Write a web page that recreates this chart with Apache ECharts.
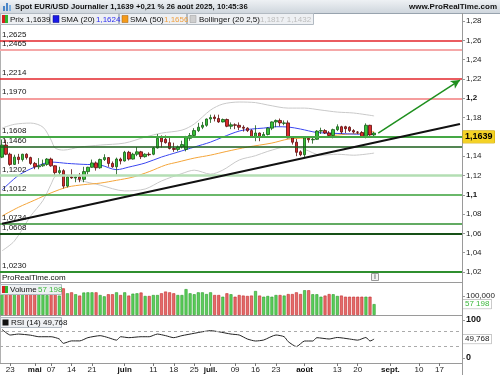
<!DOCTYPE html>
<html><head><meta charset="utf-8">
<script src="https://cdn.jsdelivr.net/npm/echarts@6/dist/echarts.min.js"></script>
<style>html,body{margin:0;padding:0;background:#fff}#c{width:500px;height:375px}</style>
</head><body><div id="c"></div>
<script>
// ---------- DATA ----------
const firstDay = '2025-04-21';
const dayCount = 113; // trading days shown on the axis (Apr 21 -> Sep 24)

// daily candles [open, close, low, high], Apr 21 -> Aug 26 2025
const ohlc = [
[1.1390,1.1515,1.1380,1.1573],[1.1515,1.1420,1.1410,1.1572],[1.1420,1.1315,1.1300,1.1436],[1.1315,1.1390,1.1310,1.1415],[1.1390,1.1365,1.1320,1.1424],
[1.1365,1.1420,1.1345,1.1425],[1.1420,1.1385,1.1365,1.1430],[1.1385,1.1325,1.1310,1.1395],[1.1325,1.1290,1.1265,1.1340],[1.1290,1.1300,1.1265,1.1380],
[1.1300,1.1315,1.1290,1.1365],[1.1315,1.1370,1.1300,1.1380],[1.1370,1.1300,1.1290,1.1385],[1.1300,1.1230,1.1200,1.1305],[1.1230,1.1250,1.1210,1.1290],
[1.1250,1.1090,1.1065,1.1265],[1.1090,1.1185,1.1075,1.1195],[1.1185,1.1175,1.1165,1.1265],[1.1175,1.1185,1.1130,1.1190],[1.1185,1.1160,1.1130,1.1225],
[1.1160,1.1240,1.1130,1.1290],[1.1240,1.1285,1.1210,1.1290],[1.1285,1.1330,1.1280,1.1365],[1.1330,1.1280,1.1250,1.1345],[1.1280,1.1365,1.1270,1.1375],
[1.1365,1.1385,1.1350,1.1420],[1.1385,1.1325,1.1290,1.1390],[1.1325,1.1290,1.1280,1.1345],[1.1290,1.1370,1.1210,1.1385],[1.1370,1.1350,1.1315,1.1385],
[1.1350,1.1440,1.1345,1.1455],[1.1440,1.1370,1.1355,1.1455],[1.1370,1.1420,1.1365,1.1435],[1.1420,1.1445,1.1400,1.1495],[1.1445,1.1395,1.1370,1.1455],
[1.1395,1.1420,1.1385,1.1430],[1.1420,1.1415,1.1400,1.1440],[1.1420,1.1485,1.1410,1.1495],[1.1485,1.1585,1.1480,1.1630],[1.1590,1.1550,1.1490,1.1615],
[1.1575,1.1540,1.1530,1.1615],[1.1540,1.1480,1.1470,1.1590],[1.1480,1.1470,1.1445,1.1540],[1.1470,1.1495,1.1450,1.1510],[1.1495,1.1520,1.1480,1.1560],
[1.1470,1.1600,1.1450,1.1610],[1.1585,1.1615,1.1560,1.1640],[1.1615,1.1665,1.1590,1.1690],[1.1665,1.1700,1.1650,1.1745],[1.1700,1.1720,1.1680,1.1755],
[1.1720,1.1785,1.1705,1.1790],[1.1785,1.1800,1.1745,1.1830],[1.1805,1.1790,1.1760,1.1830],[1.1790,1.1755,1.1745,1.1830],[1.1755,1.1780,1.1750,1.1790],
[1.1780,1.1710,1.1700,1.1790],[1.1710,1.1725,1.1680,1.1750],[1.1725,1.1720,1.1680,1.1740],[1.1720,1.1700,1.1670,1.1750],[1.1700,1.1690,1.1655,1.1720],
[1.1690,1.1665,1.1650,1.1700],[1.1665,1.1600,1.1590,1.1680],[1.1600,1.1640,1.1555,1.1720],[1.1640,1.1595,1.1555,1.1645],[1.1595,1.1625,1.1590,1.1650],
[1.1625,1.1690,1.1615,1.1700],[1.1690,1.1755,1.1670,1.1760],[1.1755,1.1770,1.1700,1.1780],[1.1770,1.1745,1.1710,1.1790],[1.1740,1.1745,1.1720,1.1770],
[1.1745,1.1590,1.1585,1.1770],[1.1590,1.1545,1.1520,1.1600],[1.1545,1.1440,1.1400,1.1580],[1.1445,1.1415,1.1400,1.1460],[1.1415,1.1590,1.1390,1.1600],
[1.1585,1.1570,1.1540,1.1600],[1.1570,1.1575,1.1530,1.1600],[1.1575,1.1660,1.1570,1.1670],[1.1660,1.1665,1.1630,1.1695],[1.1665,1.1640,1.1630,1.1680],
[1.1640,1.1615,1.1590,1.1660],[1.1615,1.1675,1.1585,1.1685],[1.1675,1.1705,1.1660,1.1730],[1.1705,1.1650,1.1630,1.1715],[1.1705,1.1685,1.1640,1.1715],
[1.1700,1.1665,1.1650,1.1710],[1.1665,1.1650,1.1635,1.1680],[1.1650,1.1648,1.1630,1.1660],[1.1645,1.1605,1.1600,1.1660],[1.1605,1.1720,1.1585,1.1740],
[1.1720,1.1620,1.1610,1.1725],[1.1620,1.1639,1.1595,1.1650]
];

const volume = [
112000,118000,114000,110000,105000,112000,108000,110000,116000,112000,
108000,104000,110000,112000,102000,140000,114000,119000,109000,102000,
118000,119000,119000,119000,105000,98000,109000,109000,119000,105000,
119000,102000,112000,114000,118000,100000,100000,105000,105000,114000,
123000,119000,114000,105000,105000,136000,114000,109000,119000,119000,
110000,119000,105000,105000,96000,114000,109000,96000,105000,102000,
100000,102000,126000,102000,96000,100000,96000,105000,105000,102000,
110000,110000,119000,110000,130000,130000,109000,109000,96000,102000,
110000,109000,100000,102000,96000,96000,96000,96000,96000,96000,
96000,57198
];

// [candle index, value]
const sma20 = [[0,1.1049],[4,1.1200],[8,1.1287],[12,1.1339],[16,1.1325],[20,1.1315],[24,1.1308],[28,1.1260],[31,1.1287],[35,1.1329],[39,1.1391],[43,1.1442],[47,1.1494],[51,1.1546],[54,1.1598],[58,1.1660],[61,1.1681],[64,1.1691],[67,1.1705],[70,1.1702],[73,1.1681],[77,1.1645],[80,1.1639],[86,1.1629],[91,1.1624]];
const sma50 = [[0,1.0780],[4,1.0870],[8,1.0945],[12,1.1020],[16,1.1080],[20,1.1105],[24,1.1121],[28,1.1150],[32,1.1183],[36,1.1240],[40,1.1308],[43,1.1339],[47,1.1380],[51,1.1411],[55,1.1450],[60,1.1494],[66,1.1536],[70,1.1577],[74,1.1588],[78,1.1598],[82,1.1619],[86,1.1632],[89,1.1640],[91,1.1656]];
const bollUpper = [[0,1.1691],[3,1.1730],[7,1.1743],[10,1.1701],[12,1.1567],[13,1.1484],[15,1.1463],[19,1.1494],[24,1.1515],[30,1.1536],[35,1.1598],[39,1.1639],[44,1.1670],[47,1.1733],[51,1.1878],[54,1.1940],[58,1.1961],[62,1.1955],[65,1.1930],[70,1.1898],[74,1.1898],[78,1.1878],[82,1.1857],[86,1.1847],[91,1.1817]];
const bollLower = [[0,1.0420],[3,1.0520],[7,1.0780],[10,1.0940],[12,1.1110],[13,1.1190],[15,1.1210],[19,1.1150],[24,1.1100],[30,1.1040],[35,1.1060],[39,1.1143],[44,1.1220],[47,1.1255],[51,1.1214],[54,1.1256],[58,1.1360],[62,1.1405],[65,1.1450],[70,1.1500],[74,1.1470],[78,1.1410],[82,1.1420],[86,1.1410],[91,1.1432]];
const rsi = [[0,75],[2,60.5],[4,63],[7,60],[9,56],[12,56],[14,50],[15,38.6],[17,45],[19,45],[21,53.5],[24,58.8],[26,53.5],[28,47],[29,56],[31,53.5],[34,56],[36,56],[38,63],[40,58.8],[42,53.5],[44,58.8],[47,65],[49,69],[51,72],[53,69],[56,63],[58,60.5],[60,50],[62,44.7],[64,47.4],[67,60.5],[69,56],[70,43],[72,30],[74,44.7],[76,44.7],[77,53.5],[80,50],[82,54],[85,50],[87,47],[89,54],[90,44.7],[91,49.768]];

// horizontal levels drawn on the price chart
const levels = [1.2625,1.2465,1.2214,1.1970,1.1608,1.1460,1.1202,1.1012,1.0734,1.0608,1.0230];
// trend line and projection arrow: [candle index, price]
const trendLine = [[0,1.0700],[112,1.1733]];
const projection = [[92,1.1640],[112,1.2189]];
const lastPrice = 1.1639, lastSma20 = 1.1624, lastSma50 = 1.1656, lastUpper = 1.1817, lastLower = 1.1432, lastVolume = 57198, lastRsi = 49.768;

// x-axis tick labels
const dateTicks = [['2025-04-23','23'],['2025-05-01','mai'],['2025-05-07','07'],['2025-05-14','14'],['2025-05-21','21'],['2025-06-02','juin'],['2025-06-11','11'],['2025-06-18','18'],['2025-06-25','25'],['2025-07-01','juil.'],['2025-07-09','09'],['2025-07-16','16'],['2025-07-23','23'],['2025-08-01','août'],['2025-08-13','13'],['2025-08-20','20'],['2025-09-01','sept.'],['2025-09-10','10'],['2025-09-17','17']];
const monthNames = ['mai','juin','juil.','août','sept.'];

// ---------- STYLES ----------
const levelColors = ['#e3262b','#f5a8a8','#e3262b','#f27c7c','#45a845','#1b5e1b','#b3deb3','#38a038','#2f8f2f','#165016','#2f8f2f'];
const levelWidths = [1.5,2,1.5,1.5,2,1.5,2.5,1.5,1.5,2,2];
const FONT = '"Liberation Sans", Arial, sans-serif';
const HIDDEN = { color: 'rgba(0,0,0,0)', width: 1, type: 'solid' };

// ---------- BUILD ----------
const categories = [];
{
  const d = new Date(firstDay + 'T00:00:00Z');
  while (categories.length < dayCount) {
    const w = d.getUTCDay();
    if (w !== 0 && w !== 6) categories.push(d.toISOString().slice(0, 10));
    d.setUTCDate(d.getUTCDate() + 1);
  }
}
const tickMap = Object.fromEntries(dateTicks);
const isTick = (i, v) => tickMap[v] !== undefined;
const comma = (v, d) => v.toFixed(d).replace('.', ',');

const volData = volume.map((v, i) => {
  const up = ohlc[i][1] >= ohlc[i][0];
  return { value: v, itemStyle: { color: up ? '#5ccf5c' : '#e46a6a', borderColor: up ? '#2a9a2a' : '#c42a2a', borderWidth: 0.6 } };
});

const levelLines = levels.map((v, k) => ({
  yAxis: v,
  lineStyle: { color: levelColors[k], width: levelWidths[k], type: 'solid' },
  label: { show: true, position: 'insideStartTop', formatter: comma(v, 4), color: '#111', fontSize: 8, fontFamily: FONT, distance: [2, 2] }
}));

const chart = echarts.init(document.getElementById('c'), null, { renderer: 'canvas', width: 500, height: 375 });

const xBase = k => ({
  type: 'category', gridIndex: k, data: categories, boundaryGap: true,
  axisLine: { show: false }, axisTick: { show: false }, axisLabel: { show: false }, splitLine: { show: false }
});

const endLabel = (text, extra) => Object.assign({
  show: true, position: 'end', distance: 1, formatter: text, fontSize: 8, fontFamily: FONT,
  backgroundColor: '#fff', borderColor: '#999', borderWidth: 0.5, padding: [1, 2, 0, 2]
}, extra);

const option = {
  animation: false,
  textStyle: { fontFamily: FONT },
  grid: [
    { left: 0, width: 462, top: 14, height: 258 },
    { left: 0, width: 462, top: 283, height: 32 },
    { left: 0, width: 462, top: 320, height: 38 }
  ],
  xAxis: [
    xBase(0), xBase(1),
    Object.assign(xBase(2), {
      offset: 5,
      axisLine: { show: true, onZero: false, lineStyle: { color: '#9a9a9a' } },
      axisTick: { show: true, interval: isTick, alignWithLabel: true, length: 3, lineStyle: { color: '#777' } },
      axisLabel: {
        show: true, interval: isTick, margin: 3, fontSize: 8, color: '#222', fontFamily: FONT,
        formatter: v => monthNames.includes(tickMap[v]) ? '{b|' + tickMap[v] + '}' : tickMap[v],
        rich: { b: { fontWeight: 'bold', fontSize: 8, fontFamily: FONT, color: '#111' } }
      }
    })
  ],
  yAxis: [
    {
      type: 'value', gridIndex: 0, position: 'right', min: 1.02, max: 1.2873, interval: 0.02,
      splitLine: { show: false },
      axisLine: { show: true, lineStyle: { color: '#9a9a9a' } },
      axisTick: { show: true, length: 3, lineStyle: { color: '#9a9a9a' } },
      axisLabel: {
        margin: 4, fontSize: 8, color: '#222', fontFamily: FONT, showMaxLabel: false,
        formatter: v => {
          const r = Math.round(v * 100) / 100;
          if (Math.abs(v - r) > 1e-6) return '';
          const s = String(r).replace('.', ',');
          return s.length <= 3 ? '{b|' + s + '}' : s;
        },
        rich: { b: { fontWeight: 'bold', fontSize: 8, fontFamily: FONT, color: '#111' } }
      }
    },
    {
      type: 'value', gridIndex: 1, position: 'right', min: 0, max: 168000, interval: 100000,
      splitLine: { show: false },
      axisLine: { show: true, lineStyle: { color: '#9a9a9a' } },
      axisTick: { show: true, length: 3, lineStyle: { color: '#9a9a9a' } },
      axisLabel: { margin: 4, fontSize: 8, color: '#222', fontFamily: FONT, showMaxLabel: false, showMinLabel: false,
        formatter: v => v === 100000 ? '100,000' : '' }
    },
    {
      type: 'value', gridIndex: 2, position: 'right', min: 0, max: 100, interval: 100,
      splitLine: { show: false },
      axisLine: { show: true, lineStyle: { color: '#9a9a9a' } },
      axisTick: { show: true, length: 3, lineStyle: { color: '#9a9a9a' } },
      axisLabel: { margin: 4, fontSize: 9, fontWeight: 'bold', color: '#111', fontFamily: FONT }
    }
  ],
  series: [
    {
      name: 'Bollinger haut', type: 'line', xAxisIndex: 0, yAxisIndex: 0, data: bollUpper, symbol: 'none', smooth: 0.3,
      lineStyle: { color: '#c9c9c9', width: 1 }, z: 1,
      markLine: {
        silent: true, symbol: 'none', animation: false,
        data: levelLines.concat([
          [{ coord: trendLine[0] }, { coord: trendLine[1], lineStyle: { color: '#111', width: 2, type: 'solid' }, label: { show: false } }],
          [{ coord: projection[0] }, { coord: projection[1], symbol: 'arrow', symbolSize: [7, 9], lineStyle: { color: '#1e8f1e', width: 1.5, type: 'solid' }, label: { show: false } }]
        ])
      }
    },
    { name: 'Bollinger bas', type: 'line', xAxisIndex: 0, yAxisIndex: 0, data: bollLower, symbol: 'none', smooth: 0.3, lineStyle: { color: '#c9c9c9', width: 1 }, z: 1 },
    { name: 'SMA (50)', type: 'line', xAxisIndex: 0, yAxisIndex: 0, data: sma50, symbol: 'none', smooth: 0.3, lineStyle: { color: '#f4a53a', width: 1 }, z: 2 },
    { name: 'SMA (20)', type: 'line', xAxisIndex: 0, yAxisIndex: 0, data: sma20, symbol: 'none', smooth: 0.3, lineStyle: { color: '#3a46f0', width: 1 }, z: 2 },
    {
      name: 'Prix', type: 'candlestick', xAxisIndex: 0, yAxisIndex: 0, data: ohlc, barWidth: 3, z: 4,
      itemStyle: { color: '#36c236', color0: '#dc2a2a', borderColor: '#145a14', borderColor0: '#5a0c0c', borderWidth: 0.8 },
      markLine: {
        silent: true, symbol: 'none', animation: false, z: 20,
        data: [{ yAxis: lastPrice, lineStyle: HIDDEN,
          label: endLabel(comma(lastPrice, 4), { color: '#000', fontWeight: 'bold', fontSize: 9, backgroundColor: '#f4d225', borderColor: '#c8a400', padding: [2, 2, 1, 2] }) }]
      }
    },
    {
      name: 'Volume', type: 'bar', xAxisIndex: 1, yAxisIndex: 1, data: volData, barWidth: 3,
      markLine: {
        silent: true, symbol: 'none', animation: false, z: 20,
        data: [{ yAxis: lastVolume, lineStyle: HIDDEN, label: endLabel('57 198', { color: '#3cb83c' }) }]
      }
    },
    {
      name: 'RSI (14)', type: 'line', xAxisIndex: 2, yAxisIndex: 2, data: rsi, symbol: 'none', smooth: 0.2,
      lineStyle: { color: '#222', width: 1 },
      markLine: {
        silent: true, symbol: 'none', animation: false, z: 20,
        data: [
          { yAxis: 70, lineStyle: { color: '#aaa', type: [3, 3], width: 1 }, label: { show: false } },
          { yAxis: 30, lineStyle: { color: '#aaa', type: [3, 3], width: 1 }, label: { show: false } },
          { yAxis: lastRsi, lineStyle: HIDDEN, label: endLabel(comma(lastRsi, 3), { color: '#222' }) }
        ]
      }
    }
  ],
  graphic: [
    // title bar
    { type: 'rect', shape: { x: 0, y: 0, width: 500, height: 13 }, style: { fill: new echarts.graphic.LinearGradient(0, 0, 0, 1, [{ offset: 0, color: '#eef1f4' }, { offset: 1, color: '#cfd6dd' }]) }, silent: true },
    { type: 'line', shape: { x1: 0, y1: 13.5, x2: 500, y2: 13.5 }, style: { stroke: '#98a3ae', lineWidth: 1 }, silent: true },
    { type: 'rect', shape: { x: 3, y: 6, width: 2, height: 5 }, style: { fill: '#4a86c8' }, silent: true },
    { type: 'rect', shape: { x: 6, y: 3, width: 2, height: 8 }, style: { fill: '#4a86c8' }, silent: true },
    { type: 'rect', shape: { x: 9, y: 5, width: 2, height: 6 }, style: { fill: '#7fb0e0' }, silent: true },
    { type: 'text', x: 15, y: 7, style: { text: 'Spot EUR/USD Journalier 1,1639 +0,21 % 26 août 2025, 10:45:36', font: 'bold 7.7px ' + FONT, fill: '#111', textVerticalAlign: 'middle' }, silent: true },
    { type: 'text', x: 497, y: 7, style: { text: 'www.ProRealTime.com', font: 'bold 8px ' + FONT, fill: '#111', textAlign: 'right', textVerticalAlign: 'middle' }, silent: true },
    // frame
    { type: 'line', shape: { x1: 0.5, y1: 13, x2: 0.5, y2: 363 }, style: { stroke: '#b0b0b0', lineWidth: 1 }, silent: true },
    { type: 'line', shape: { x1: 462.5, y1: 13, x2: 462.5, y2: 375 }, style: { stroke: '#9a9a9a', lineWidth: 1 }, silent: true },
    { type: 'line', shape: { x1: 0, y1: 282.5, x2: 462, y2: 282.5 }, style: { stroke: '#9a9a9a', lineWidth: 1 }, silent: true },
    { type: 'line', shape: { x1: 0, y1: 315.5, x2: 462, y2: 315.5 }, style: { stroke: '#9a9a9a', lineWidth: 1 }, silent: true },
    // legend row (price)
    { type: 'rect', shape: { x: 0.5, y: 13.5, width: 49, height: 11 }, style: { fill: '#eef0f3', stroke: '#b2bac2', lineWidth: 1 }, silent: true, z: 50 },
    { type: 'rect', shape: { x: 2, y: 15, width: 3, height: 8 }, style: { fill: '#d42020' }, silent: true, z: 51 },
    { type: 'rect', shape: { x: 5, y: 15, width: 3, height: 8 }, style: { fill: '#2fb52f' }, silent: true, z: 51 },
    { type: 'text', x: 10, y: 19.5, style: { text: 'Prix 1,1639', font: '8px ' + FONT, fill: '#111', textVerticalAlign: 'middle' }, silent: true, z: 51 },
    { type: 'rect', shape: { x: 50.5, y: 13.5, width: 68, height: 11 }, style: { fill: '#eef0f3', stroke: '#b2bac2', lineWidth: 1 }, silent: true, z: 50 },
    { type: 'rect', shape: { x: 53, y: 15.5, width: 6, height: 7 }, style: { fill: '#1a1ae6', stroke: '#0a0a80', lineWidth: 0.5 }, silent: true, z: 51 },
    { type: 'text', x: 61, y: 19.5, style: { text: 'SMA (20)', font: '8px ' + FONT, fill: '#111', textVerticalAlign: 'middle' }, silent: true, z: 51 },
    { type: 'text', x: 96, y: 19.5, style: { text: comma(lastSma20, 4), font: '8px ' + FONT, fill: '#2f2ff0', textVerticalAlign: 'middle' }, silent: true, z: 51 },
    { type: 'rect', shape: { x: 119.5, y: 13.5, width: 67, height: 11 }, style: { fill: '#eef0f3', stroke: '#b2bac2', lineWidth: 1 }, silent: true, z: 50 },
    { type: 'rect', shape: { x: 122, y: 15.5, width: 6, height: 7 }, style: { fill: '#f49a1a', stroke: '#a06010', lineWidth: 0.5 }, silent: true, z: 51 },
    { type: 'text', x: 130, y: 19.5, style: { text: 'SMA (50)', font: '8px ' + FONT, fill: '#111', textVerticalAlign: 'middle' }, silent: true, z: 51 },
    { type: 'text', x: 164, y: 19.5, style: { text: comma(lastSma50, 4), font: '8px ' + FONT, fill: '#f0a040', textVerticalAlign: 'middle' }, silent: true, z: 51 },
    { type: 'rect', shape: { x: 187.5, y: 13.5, width: 126, height: 11 }, style: { fill: '#eef0f3', stroke: '#b2bac2', lineWidth: 1 }, silent: true, z: 50 },
    { type: 'rect', shape: { x: 190, y: 15.5, width: 6, height: 7 }, style: { fill: '#cfcfcf', stroke: '#9a9a9a', lineWidth: 0.5 }, silent: true, z: 51 },
    { type: 'text', x: 199, y: 19.5, style: { text: 'Bollinger (20 2,5)', font: '8px ' + FONT, fill: '#111', textVerticalAlign: 'middle' }, silent: true, z: 51 },
    { type: 'text', x: 260, y: 19.5, style: { text: comma(lastUpper, 4) + ' ' + comma(lastLower, 4), font: '8px ' + FONT, fill: '#bdbdbd', textVerticalAlign: 'middle' }, silent: true, z: 51 },
    // between panels
    { type: 'text', x: 2, y: 278, style: { text: 'ProRealTime.com', font: '8px ' + FONT, fill: '#111', textVerticalAlign: 'middle' }, silent: true },
    { type: 'rect', shape: { x: 371.5, y: 273.5, width: 7, height: 7 }, style: { fill: '#f2f2f2', stroke: '#999', lineWidth: 1 }, silent: true },
    { type: 'text', x: 375, y: 277.5, style: { text: 'i', font: 'bold 7px ' + FONT, fill: '#777', textAlign: 'center', textVerticalAlign: 'middle' }, silent: true },
    // volume legend
    { type: 'rect', shape: { x: 0.5, y: 284.5, width: 61, height: 10 }, style: { fill: '#eef0f3', stroke: '#b2bac2', lineWidth: 1 }, silent: true, z: 50 },
    { type: 'rect', shape: { x: 2, y: 286, width: 3, height: 7 }, style: { fill: '#d42020' }, silent: true, z: 51 },
    { type: 'rect', shape: { x: 5, y: 286, width: 3, height: 7 }, style: { fill: '#2fb52f' }, silent: true, z: 51 },
    { type: 'text', x: 10, y: 290, style: { text: 'Volume', font: '8px ' + FONT, fill: '#111', textVerticalAlign: 'middle' }, silent: true, z: 51 },
    { type: 'text', x: 38, y: 290, style: { text: '57 198', font: '8px ' + FONT, fill: '#3cb83c', textVerticalAlign: 'middle' }, silent: true, z: 51 },
    // RSI legend
    { type: 'rect', shape: { x: 0.5, y: 317.5, width: 61, height: 10 }, style: { fill: '#eef0f3', stroke: '#b2bac2', lineWidth: 1 }, silent: true, z: 50 },
    { type: 'rect', shape: { x: 2.5, y: 319.5, width: 6, height: 6 }, style: { fill: '#111' }, silent: true, z: 51 },
    { type: 'text', x: 11, y: 323, style: { text: 'RSI (14) 49,768', font: '8px ' + FONT, fill: '#111', textVerticalAlign: 'middle' }, silent: true, z: 51 }
  ]
};
chart.setOption(option);
</script>
</body></html>
